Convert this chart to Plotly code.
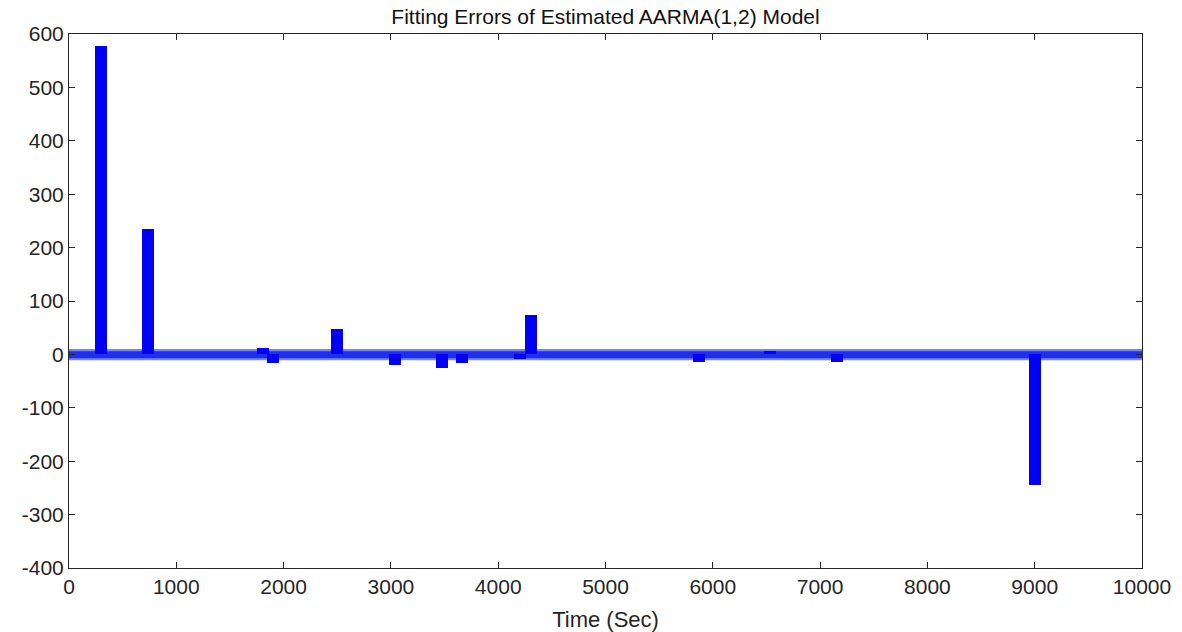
import plotly.graph_objects as go

# Large fitting-error bars (time in sec, error value)
bar_time = [300, 737, 1810, 1900, 2497, 3036, 3476, 3663, 4200, 4310, 5868, 6530, 7158, 9002]
bar_error = [577, 234, 12, -17, 48, -19, -25, -16, -9, 73, -14, 6, -15, -244]

# Envelope of the dense small-error band around zero
band_time = [-30, 10030]
band_core_upper = [6, 6]
band_core_lower = [-7, -7]
band_fringe_upper = [10, 10]
band_fringe_lower = [-11, -11]

x_ticks = list(range(0, 10001, 1000))
x_labels = [str(v) for v in x_ticks]
y_ticks = list(range(-400, 601, 100))
y_labels = [str(v) for v in y_ticks]  # plain hyphen minus as in the reference

fig = go.Figure()

fig.add_trace(go.Scatter(x=band_time, y=band_fringe_upper, mode="lines",
                         line=dict(width=0), hoverinfo="skip", cliponaxis=False))
fig.add_trace(go.Scatter(x=band_time, y=band_fringe_lower, mode="lines",
                         line=dict(width=0), fill="tonexty",
                         fillcolor="#7485f6", hoverinfo="skip"))
fig.add_trace(go.Scatter(x=band_time, y=band_core_upper, mode="lines",
                         line=dict(width=0), hoverinfo="skip"))
fig.add_trace(go.Scatter(x=band_time, y=band_core_lower, mode="lines",
                         line=dict(width=0), fill="tonexty",
                         fillcolor="#1e30ee", hoverinfo="skip"))

# bars on an overlaying axis so that they are drawn above the band
fig.add_trace(go.Bar(x=bar_time, y=bar_error, width=112, yaxis="y2",
                     marker=dict(color="#0000f5", line=dict(width=0)),
                     hoverinfo="x+y"))

font_family = "Liberation Sans, Arial, Helvetica"
axis_common = dict(showline=True, linecolor="#262626", linewidth=1,
                   mirror="ticks", ticks="inside", ticklen=6, tickcolor="#262626",
                   showgrid=False, zeroline=False, automargin=False,
                   tickfont=dict(family=font_family, size=21, color="#262626"))

fig.update_layout(
    width=1182, height=632,
    margin=dict(l=69, r=40, t=34, b=64),
    paper_bgcolor="white", plot_bgcolor="white",
    showlegend=False, bargap=0,
    title=dict(text="Fitting Errors of Estimated AARMA(1,2) Model",
               x=(69 + 1142) / 2 / 1182, xanchor="center", y=1 - 17 / 632, yanchor="middle",
               font=dict(family=font_family, size=21, color="#111111")),
    xaxis=dict(range=[0, 10000], tickvals=x_ticks, ticktext=x_labels,
               title=dict(text="Time (Sec)", standoff=14,
                          font=dict(family=font_family, size=22, color="#262626")),
               **axis_common),
    yaxis=dict(range=[-400, 600], tickvals=y_ticks, ticktext=y_labels, **axis_common),
    yaxis2=dict(range=[-400, 600], overlaying="y", showline=False, showticklabels=False,
                ticks="", showgrid=False, zeroline=False),
)

fig.write_html("out.html")
